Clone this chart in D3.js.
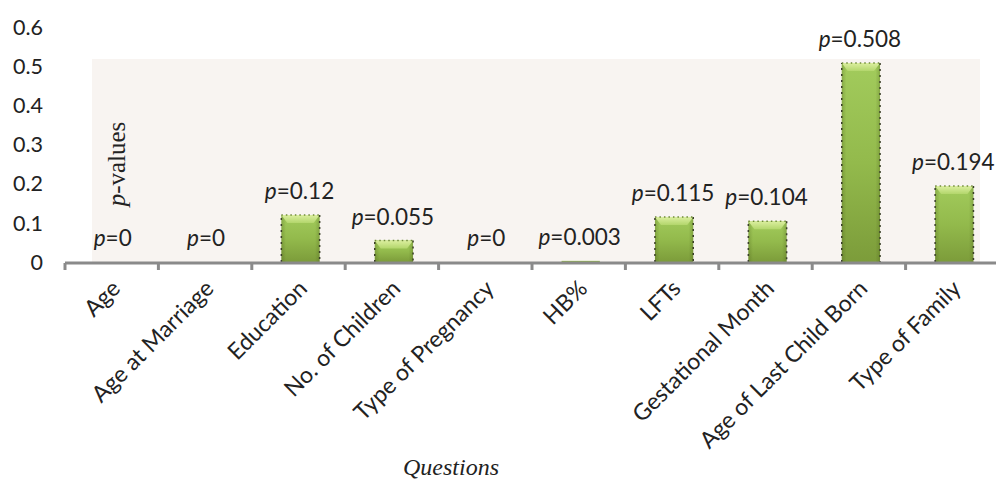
<!DOCTYPE html>
<html><head><meta charset="utf-8">
<script src="https://cdn.jsdelivr.net/npm/d3@7"></script>
<style>html,body{margin:0;padding:0;background:#fff;}svg{display:block;}</style>
</head><body>
<svg id="c" width="996" height="479"></svg>
<script>
const categories = ["Age","Age at Marriage","Education","No. of Children","Type of Pregnancy","HB%","LFTs","Gestational Month","Age of Last Child Born","Type of Family"];
const pValues = [0, 0, 0.12, 0.055, 0, 0.003, 0.115, 0.104, 0.508, 0.194];
const valueLabels = ["0","0","0.12","0.055","0","0.003","0.115","0.104","0.508","0.194"];
const yTicks = [0, 0.1, 0.2, 0.3, 0.4, 0.5, 0.6];

const svg = d3.select("#c");
const font = "Lato, 'Open Sans', sans-serif";
const x = d3.scaleBand().domain(categories).range([65, 999]).paddingInner(0.59).paddingOuter(0.295);
const y = d3.scaleLinear().domain([0, 0.6]).range([262, 27]);

const defs = svg.append("defs");
const g1 = defs.append("linearGradient").attr("id","bar").attr("x1","0").attr("x2","0").attr("y1","0").attr("y2","1");
g1.append("stop").attr("offset","0").attr("stop-color","#a2cb5c");
g1.append("stop").attr("offset","0.5").attr("stop-color","#93ba4c");
g1.append("stop").attr("offset","1").attr("stop-color","#7c9c3a");
const g3 = defs.append("linearGradient").attr("id","edge").attr("x1","0").attr("x2","1").attr("y1","0").attr("y2","0");
g3.append("stop").attr("offset","0").attr("stop-color","#3d5010").attr("stop-opacity",0.25);
g3.append("stop").attr("offset","0.12").attr("stop-color","#3d5010").attr("stop-opacity",0);
g3.append("stop").attr("offset","0.88").attr("stop-color","#3d5010").attr("stop-opacity",0);
g3.append("stop").attr("offset","1").attr("stop-color","#3d5010").attr("stop-opacity",0.25);
const g2 = defs.append("linearGradient").attr("id","bev").attr("x1","0").attr("x2","0").attr("y1","0").attr("y2","1");
g2.append("stop").attr("offset","0").attr("stop-color","#dcefa0");
g2.append("stop").attr("offset","1").attr("stop-color","#b3d66c");

// plot background
svg.append("rect").attr("x", 92).attr("y", 59).attr("width", 888).attr("height", 262-59).attr("fill", "#f8f4f1");

// bars
const bars = svg.append("g");
categories.forEach((c, i) => {
  const v = pValues[i];
  if (v <= 0) return;
  const bx = x(c) + 2, bw = x.bandwidth(), by = y(v), bh = y(0) - y(v);
  bars.append("rect").attr("x", bx).attr("y", by).attr("width", bw).attr("height", bh).attr("fill", "url(#bar)");
  if (bh < 4) return;
  bars.append("rect").attr("x", bx).attr("y", by).attr("width", bw).attr("height", bh).attr("fill", "url(#edge)");
  const bev = Math.min(8, bh/2);
  bars.append("path")
    .attr("d", `M${bx},${by} L${bx+bw},${by} L${bx+bw-6},${by+bev} L${bx+6},${by+bev} Z`)
    .attr("fill", "url(#bev)");
  bars.append("path").attr("d", `M${bx},${y(0)} L${bx},${by} M${bx+bw},${by} L${bx+bw},${y(0)}`)
    .attr("fill", "none").attr("stroke", "#3b3f2a").attr("stroke-width", 1.5).attr("stroke-dasharray", "2,4");
  bars.append("line").attr("x1", bx).attr("x2", bx+bw).attr("y1", by).attr("y2", by)
    .attr("stroke", "#6f8a3a").attr("stroke-width", 1.5).attr("stroke-dasharray", "1.5,3");
});

// x axis
svg.append("line").attr("x1", 65).attr("x2", 996).attr("y1", 263).attr("y2", 263).attr("stroke", "#8a8a8a").attr("stroke-width", 3);
categories.forEach((c, i) => {
  const tx = x.step() * i + 65;
  svg.append("line").attr("x1", tx).attr("x2", tx).attr("y1", 263).attr("y2", 270).attr("stroke", "#8a8a8a").attr("stroke-width", 3);
});

// y tick labels
svg.append("g").selectAll("text").data(yTicks).join("text")
  .attr("x", 43).attr("y", d => y(d)).attr("dy", "0.36em").attr("text-anchor", "end")
  .attr("font-family", font).attr("font-size", 21.5).attr("fill", "#222")
  .text(d => d === 0 ? "0" : d3.format(".1f")(d));

// value labels
categories.forEach((c, i) => {
  const t = svg.append("text").attr("x", x(c) + x.bandwidth()/2 + 1).attr("y", y(pValues[i]) - 24).attr("dy", "0.36em")
    .attr("text-anchor", "middle").attr("font-family", font).attr("font-size", 22.5).attr("fill", "#222");
  t.append("tspan").attr("font-style", "italic").text("p");
  t.append("tspan").text("=" + valueLabels[i]);
});

// category labels
categories.forEach((c, i) => {
  const cx = x(c) + x.bandwidth()/2;
  svg.append("text").attr("transform", `translate(${cx + 10},${290}) rotate(-45)`)
    .attr("text-anchor", "end").attr("font-family", font).attr("font-size", 23).attr("fill", "#222").text(c);
});

// axis titles
const yt = svg.append("text").attr("transform", "translate(125,164) rotate(-90)").attr("text-anchor", "middle")
  .attr("font-family", "'Liberation Serif', 'DejaVu Serif', serif").attr("font-size", 25).attr("fill", "#222");
yt.append("tspan").attr("font-style", "italic").text("p");
yt.append("tspan").text("-values");
svg.append("text").attr("x", 451).attr("y", 475).attr("text-anchor", "middle")
  .attr("font-family", "'Liberation Serif', 'DejaVu Serif', serif").attr("font-style", "italic").attr("font-size", 24).attr("fill", "#222").text("Questions");
</script>
</body></html>
